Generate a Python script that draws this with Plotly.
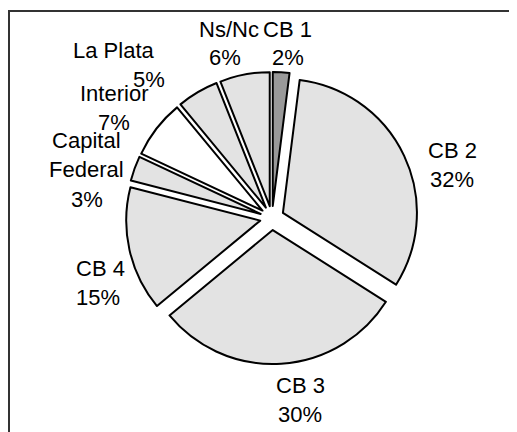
import plotly.graph_objects as go

# datos del gráfico
etiquetas = ["CB 1", "CB 2", "CB 3", "CB 4", "Capital<br>Federal", "Interior", "La Plata", "Ns/Nc"]
porcentajes = [2, 32, 30, 15, 3, 7, 5, 6]
colores = ["#999999", "#e3e3e3", "#e3e3e3", "#e3e3e3", "#e3e3e3", "#ffffff", "#e3e3e3", "#e3e3e3"]

# posición (px de la imagen) del centro de cada nombre y de cada porcentaje
pos_nombre = [(287, 29), (452, 150), (300, 385), (100, 268), (86, 155), (114, 93), (113, 50), (229, 29)]
pos_pct = [(288, 57), (452, 179), (300, 414), (98, 297), (87, 199), (114, 122), (149, 79), (225, 57)]

# la página html tiene 8px de margen en el body
OFF = 8
W, H = 509, 424
CX, CY, R = 264, 210, 134
PULL = 0.09
FUENTE = dict(family="Arial, Liberation Sans, sans-serif", size=22, color="#000000")

# caja del dominio para que plotly dibuje el radio R centrado en (CX, CY)
caja = R * (2 + 2 * PULL)
dom_x = [(CX - caja / 2) / W, (CX + caja / 2) / W]
dom_y = [1 - (CY + caja / 2) / H, 1 - (CY - caja / 2) / H]

fig = go.Figure(go.Pie(
    labels=etiquetas,
    values=porcentajes,
    textinfo="none",
    sort=False,
    direction="clockwise",
    rotation=0,
    pull=PULL,
    marker=dict(colors=colores, line=dict(color="#000000", width=2)),
    domain=dict(x=dom_x, y=dom_y),
    showlegend=False,
    hoverinfo="label+percent",
))


def px_a_paper(x, y):
    return (x - OFF) / W, 1 - (y - OFF) / H


anotaciones = []
for nombre, pct, pn, pp in zip(etiquetas, porcentajes, pos_nombre, pos_pct):
    for texto, (x, y) in ((nombre, pn), (f"{pct}%", pp)):
        ax, ay = px_a_paper(x, y)
        anotaciones.append(dict(
            text=texto, x=ax, y=ay, xref="paper", yref="paper",
            xanchor="center", yanchor="middle", showarrow=False,
            font=FUENTE, align="center",
        ))

fig.update_layout(
    width=W,
    height=H,
    margin=dict(l=0, r=0, t=0, b=0, autoexpand=False),
    paper_bgcolor="#ffffff",
    plot_bgcolor="#ffffff",
    annotations=anotaciones,
    shapes=[dict(
        type="rect", xref="paper", yref="paper",
        x0=1 / W, y0=-0.1, x1=1.1, y1=1 - 3 / H,
        line=dict(color="#333333", width=2),
    )],
)

fig.write_html("out.html")
